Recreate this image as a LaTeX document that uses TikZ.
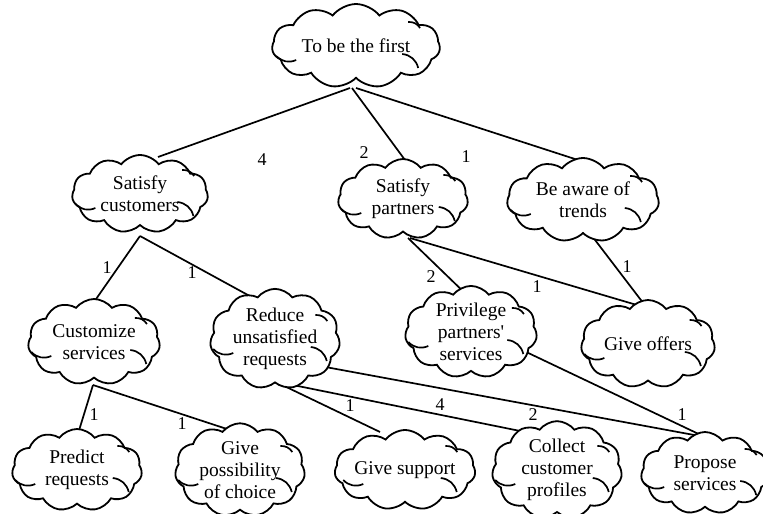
\documentclass[tikz,border=0pt]{standalone}
\usepackage{fontspec}
\setmainfont{Liberation Serif}
\usetikzlibrary{shapes.symbols,calc}
\pgfdeclarelayer{bg}
\pgfsetlayers{bg,main}

\begin{document}
\begin{tikzpicture}[x=1pt,y=-1pt,
  goal/.style={cloud, cloud puffs=11, cloud puff arc=105, cloud ignores aspect,
    draw, line width=1.8pt, fill=white, inner sep=0pt, align=center,
    font=\fontsize{19.5}{22}\selectfont},
  link/.style={line width=1.7pt},
  curl/.style={line width=1.7pt},
  wt/.style={font=\fontsize{18}{20}\selectfont, inner sep=0pt}]
\useasboundingbox (0,0) rectangle (763,514);

% goals
\node[goal, minimum width=168pt, minimum height=84pt] (root) at (356,46) {To be the first};
\node[goal, minimum width=136pt, minimum height=78pt] (sc) at (140,194) {Satisfy\\customers};
\node[goal, minimum width=130pt, minimum height=80pt] (sp) at (403,199) {Satisfy\\partners};
\node[goal, minimum width=152pt, minimum height=84pt] (ba) at (583,200) {Be aware of\\trends};
\node[goal, minimum width=132pt, minimum height=86pt] (cs) at (94,342) {Customize\\services};
\node[goal, minimum width=130pt, minimum height=88pt] (rr) at (275,339) {Reduce\\unsatisfied\\requests};
\node[goal, minimum width=132pt, minimum height=80pt] (pp) at (471,332) {Privilege\\partners\textquotesingle\\services};
\node[goal, minimum width=134pt, minimum height=88pt] (go) at (648,344) {Give offers};
\node[goal, minimum width=130pt, minimum height=82pt] (pr) at (77,470) {Predict\\requests};
\node[goal, minimum width=130pt, minimum height=84pt] (gp) at (240,470) {Give\\possibility\\of choice};
\node[goal, minimum width=130pt, minimum height=80pt] (gs) at (405,470) {Give support};
\node[goal, minimum width=130pt, minimum height=84pt] (cc) at (557,470) {Collect\\customer\\profiles};
\node[goal, minimum width=128pt, minimum height=82pt] (ps) at (705,473) {Propose\\services};

% inner curls of the clouds
\foreach \n/\w in {root/84,sc/68,sp/65,ba/76,cs/66,rr/65,pp/66,go/67,pr/65,gp/65,gs/65,cc/65,ps/64} {
  \draw[curl] ($(\n.center)+(-0.95*\w,10)$) to[bend right=35] ++(20,4);
  \draw[curl] ($(\n.center)+(0.55*\w,8)$) to[bend left=35] ++(16,14);
  \draw[curl] ($(\n.center)+(0.62*\w,-24)$) to[bend left=30] ++(12,6);
}

% weighted links
\begin{pgfonlayer}{bg}
\draw[link] ($(root.center)+(-6,42)$) -- ($(sc.center)+(18,-37)$);
\draw[link] ($(root.center)+(-4,42)$) -- ($(sp.center)+(2,-39)$);
\draw[link] ($(root.center)+(0,42)$) -- ($(ba.center)+(-5,-40)$);
\draw[link] ($(sc.center)+(0,42)$) -- ($(cs.center)+(0,-40)$);
\draw[link] ($(sc.center)+(0,42)$) -- ($(rr.center)+(-18,-39)$);
\draw[link] ($(sp.center)+(5,39)$) -- ($(pp.center)+(-1,-34)$);
\draw[link] ($(sp.center)+(7,39)$) -- ($(go.center)+(-1,-36)$);
\draw[link] ($(ba.center)+(9,36)$) -- ($(go.center)+(-1,-36)$);
\draw[link] ($(cs.center)+(-1,43)$) -- ($(pr.center)+(0,-33)$);
\draw[link] ($(cs.center)+(-1,43)$) -- ($(gp.center)+(-10,-40)$);
\draw[link] ($(rr.center)+(3,44)$) -- ($(gs.center)+(-25,-38)$);
\draw[link] ($(rr.center)+(8,44)$) -- ($(cc.center)+(-17,-35)$);
\draw[link] ($(rr.center)+(45,27)$) -- ($(ps.center)+(0,-36)$);
\draw[link] ($(pp.center)+(51,18)$) -- ($(ps.center)+(0,-36)$);
\end{pgfonlayer}

% weights
\node[wt] (w1) at (262,160) {4};
\node[wt] (w2) at (364,153) {2};
\node[wt] (w3) at (466,157) {1};
\node[wt] (w4) at (107,268) {1};
\node[wt] (w5) at (192,273) {1};
\node[wt] (w6) at (431,277) {2};
\node[wt] (w7) at (537,287) {1};
\node[wt] (w8) at (627,267) {1};
\node[wt] (w9) at (94,415) {1};
\node[wt] (w10) at (182,424) {1};
\node[wt] (w11) at (350,406) {1};
\node[wt] (w12) at (440,405) {4};
\node[wt] (w13) at (533,415) {2};
\node[wt] (w14) at (682,415) {1};
\end{tikzpicture}
\end{document}
